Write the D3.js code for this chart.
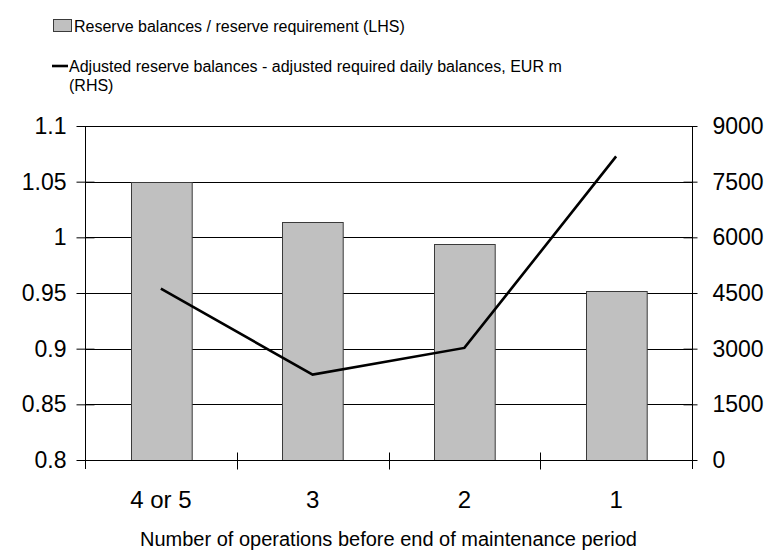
<!DOCTYPE html>
<html>
<head>
<meta charset="utf-8">
<script src="https://cdn.jsdelivr.net/npm/d3@7"></script>
<style>
  body { margin: 0; background: #fff; }
  svg { font-family: "Liberation Sans", Arial, sans-serif; }
</style>
</head>
<body>
<div id="chart"></div>
<script>
// data
const categories = ["4 or 5", "3", "2", "1"];
const ratioValues = [1.05, 1.014, 0.994, 0.952];      // LHS bars
const balanceValues = [4620, 2300, 3020, 8180];       // RHS line, EUR m
const leftTicks = [0.8, 0.85, 0.9, 0.95, 1, 1.05, 1.1];
const rightTicks = [0, 1500, 3000, 4500, 6000, 7500, 9000];

const width = 777, height = 550;
const margin = { top: 126, right: 85, bottom: 90, left: 85 };
const innerW = width - margin.left - margin.right;
const innerH = height - margin.top - margin.bottom;

const svg = d3.select("#chart").append("svg")
  .attr("width", width)
  .attr("height", height);

const g = svg.append("g")
  .attr("transform", `translate(${margin.left},${margin.top})`);

const x = d3.scaleBand()
  .domain(categories)
  .range([0, innerW])
  .paddingInner(0.6)
  .paddingOuter(0.3);

const xStep = d3.scaleBand().domain(categories).range([0, innerW]).padding(0);

const yL = d3.scaleLinear().domain([0.8, 1.1]).range([innerH, 0]);
const yR = d3.scaleLinear().domain([0, 9000]).range([innerH, 0]);

// gridlines
g.append("g")
  .selectAll("line")
  .data(leftTicks.slice(1))
  .join("line")
  .attr("x1", 0)
  .attr("x2", innerW)
  .attr("y1", d => Math.round(yL(d)) + 0.5)
  .attr("y2", d => Math.round(yL(d)) + 0.5)
  .attr("stroke", "#000")
  .attr("stroke-width", 1);

// bars
g.append("g")
  .selectAll("rect")
  .data(ratioValues)
  .join("rect")
  .attr("x", (d, i) => Math.round(x(categories[i])) + 0.5)
  .attr("y", d => Math.round(yL(d)) + 0.5)
  .attr("width", x.bandwidth())
  .attr("height", d => innerH - Math.round(yL(d)))
  .attr("fill", "#c0c0c0")
  .attr("stroke", "#3a3a3a")
  .attr("stroke-width", 1);

// line
const line = d3.line()
  .x((d, i) => xStep(categories[i]) + xStep.bandwidth() / 2)
  .y(d => yR(d));

g.append("path")
  .datum(balanceValues)
  .attr("d", line)
  .attr("fill", "none")
  .attr("stroke", "#000")
  .attr("stroke-width", 2.6)
  .attr("stroke-linejoin", "miter");

// left axis
const leftAxis = g.append("g")
  .attr("transform", "translate(0.5,0)")
  .call(d3.axisLeft(yL).tickValues(leftTicks).tickSize(9).tickPadding(6)
    .tickFormat(d => String(+d.toFixed(2))));
leftAxis.selectAll(".tick line").attr("x2", -9).attr("x1", 9).attr("stroke", "#000");
leftAxis.select(".domain").attr("d", `M0,0V${innerH + 9}`).attr("stroke", "#000");
leftAxis.selectAll("text").attr("x", -19).style("font-size", "23px").attr("fill", "#000");

// right axis
const rightAxis = g.append("g")
  .attr("transform", `translate(${innerW + 0.5},0)`)
  .call(d3.axisRight(yR).tickValues(rightTicks).tickSize(9).tickPadding(6)
    .tickFormat(d3.format("d")));
rightAxis.selectAll(".tick line").attr("x1", -9).attr("x2", 5).attr("stroke", "#000");
rightAxis.select(".domain").attr("d", `M0,0V${innerH + 9}`).attr("stroke", "#000");
rightAxis.selectAll("text").attr("x", 20).style("font-size", "23px").attr("fill", "#000");

// bottom axis
const bottomAxis = g.append("g")
  .attr("transform", `translate(0,${innerH + 0.5})`);
bottomAxis.append("line")
  .attr("x1", 0).attr("x2", innerW)
  .attr("stroke", "#000");
bottomAxis.selectAll("line.sep")
  .data(categories.slice(1))
  .join("line")
  .attr("class", "sep")
  .attr("x1", d => Math.round(xStep(d)) + 0.5)
  .attr("x2", d => Math.round(xStep(d)) + 0.5)
  .attr("y1", -8)
  .attr("y2", 9)
  .attr("stroke", "#000");
bottomAxis.selectAll("text")
  .data(categories)
  .join("text")
  .attr("x", d => xStep(d) + xStep.bandwidth() / 2)
  .attr("y", 47)
  .attr("text-anchor", "middle")
  .style("font-size", "24px")
  .text(d => d);

// x title
svg.append("text")
  .attr("x", margin.left + innerW / 2)
  .attr("y", 546)
  .attr("text-anchor", "middle")
  .style("font-size", "20px")
  .text("Number of operations before end of maintenance period");

// legend
const legend = svg.append("g");
legend.append("rect")
  .attr("x", 53.5).attr("y", 19.5)
  .attr("width", 18).attr("height", 12)
  .attr("fill", "#c0c0c0")
  .attr("stroke", "#3a3a3a");
legend.append("text")
  .attr("x", 74).attr("y", 32)
  .style("font-size", "16px")
  .text("Reserve balances / reserve requirement (LHS)");
legend.append("line")
  .attr("x1", 52).attr("x2", 68)
  .attr("y1", 66).attr("y2", 66)
  .attr("stroke", "#000")
  .attr("stroke-width", 2.6);
legend.append("text")
  .attr("x", 69).attr("y", 72)
  .style("font-size", "16px")
  .text("Adjusted reserve balances - adjusted required daily balances, EUR m");
legend.append("text")
  .attr("x", 69).attr("y", 91)
  .style("font-size", "16px")
  .text("(RHS)");
</script>
</body>
</html>
